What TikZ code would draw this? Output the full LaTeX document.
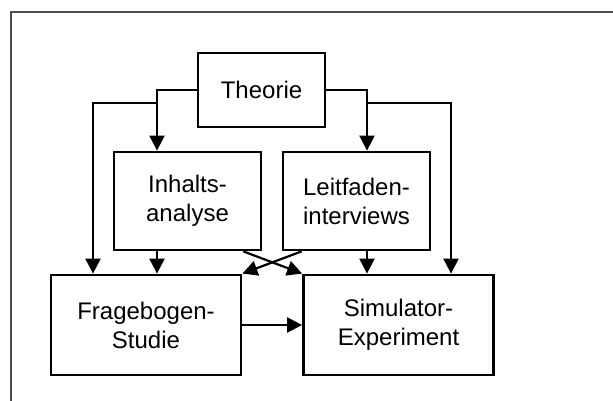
\documentclass[tikz,border=0pt]{standalone}
\usepackage{fontspec}
\setmainfont{Liberation Sans}
\usepackage{tikz}
\usetikzlibrary{arrows.meta}
\usepackage{xcolor}
\begin{document}
\begin{tikzpicture}[x=1pt, y=1pt,
	box/.style={draw=black, line width=2.8pt, align=center, inner sep=0pt, font=\fontsize{24}{29}\selectfont},
	arr/.style={black, line width=2.2pt, -{Triangle[length=15pt, width=15pt]}}]
				    		\useasboundingbox (0, 0) rectangle (613, 401);
				    		\draw[black!70, line width=1.2pt] (11, 0)--(11, 389)--(613, 389);
				    		\node[box, minimum width=127, minimum height=74] (theorie) at (261.5, 311) {Theorie};
				    		\node[box, minimum width=147, minimum height=98] (inhalt) at (187.5, 200) {Inhalts-\\analyse};
				    		\node[box, minimum width=147, minimum height=98] (leitfaden) at (356.5, 200) {Leitfaden-\\interviews};
				    		\node[box, minimum width=190, minimum height=100] (frage) at (146, 76) {Fragebogen-\\Studie};
				    		\node[box, minimum width=190, minimum height=100] (sim) at (398.5, 76) {Simulator-\\Experiment};
				    		\coordinate (lk) at (157, 298);
				    		\coordinate (rk) at (367, 298);
				    		\draw[arr] (theorie.west)-|([xshift=-30.5pt]inhalt.north);
				    		\draw[arr] (theorie.east)-|([xshift=10.5pt]leitfaden.north);
				    		\draw[arr] (lk)-|([xshift=-53pt]frage.north);
				    		\draw[arr] (rk)-|([xshift=52.5pt]sim.north);
				    		\draw[arr] ([xshift=-30.5pt]inhalt.south)--([xshift=11pt]frage.north);
				    		\draw[arr] ([xshift=10.5pt]leitfaden.south)--([xshift=-31.5pt]sim.north);
				    		\draw[arr] ([xshift=-19pt]inhalt.south east)--(sim.north west);
				    		\draw[arr] ([xshift=20pt]leitfaden.south west)--(frage.north east);
				    		\draw[arr] (frage.east)--(sim.west);
						\end{tikzpicture}
\end{document}
